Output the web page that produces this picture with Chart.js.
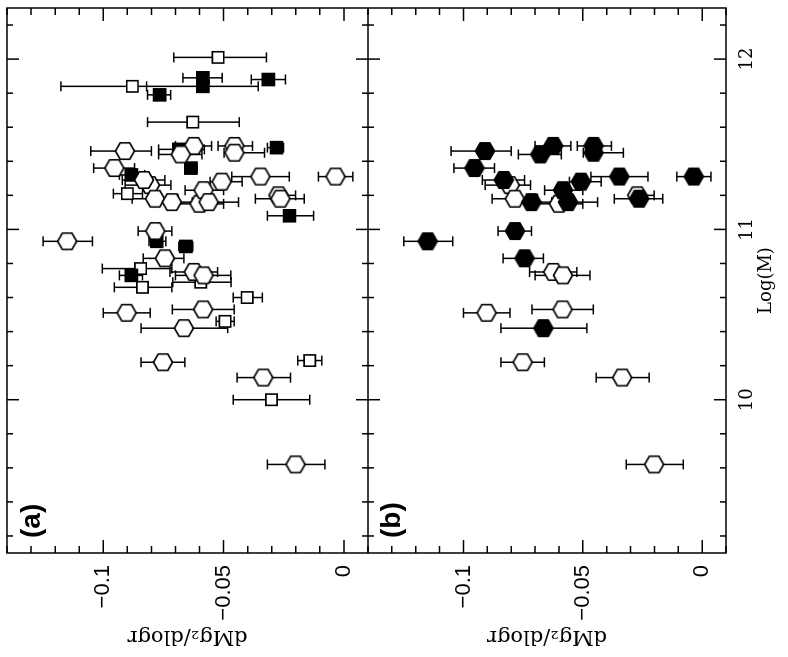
<!DOCTYPE html>
<html>
<head>
<meta charset="utf-8">
<script src="https://cdn.jsdelivr.net/npm/chart.js@4.4.0/dist/chart.umd.min.js"></script>
<style>
html,body{margin:0;padding:0;background:#fff;width:788px;height:657px;overflow:hidden;}
#rot{position:absolute;left:0;top:0;width:657px;height:788px;transform-origin:0 0;transform:translate(0,657px) rotate(-90deg);background:#fff;}
#ca{position:absolute;left:0;top:0;}
#cb{position:absolute;left:0;top:368px;}
</style>
</head>
<body>
<div id="rot">
  <canvas id="ca" width="657" height="368"></canvas>
  <canvas id="cb" width="657" height="420"></canvas>
</div>
<script>
// ---------------- data ----------------
const logMTickLabels = [10, 11, 12];
const dmgTickLabels = [-0.1, -0.05, 0];
const logMRange = [9.1, 12.3];
const dmgRange = [-0.14, 0.01];
const logMMinorStep = 0.2;
const dmgMinorStep = 0.01;

// hexagon sample (plotted in both panels); this group is filled in panel (b)
const hexFilledLogM = [11.31, 11.46, 11.36, 10.93, 10.99, 10.83, 10.42, 11.28, 11.31, 11.29, 11.16, 11.23, 11.16, 11.18, 11.49, 11.44, 11.49, 11.45];
const hexFilledVal  = [-0.0035, -0.091, -0.0954, -0.115, -0.0784, -0.0744, -0.0665, -0.0508, -0.0347, -0.0831, -0.0715, -0.0583, -0.0562, -0.0264, -0.0624, -0.0678, -0.0455, -0.0455];
const hexFilledLo   = [-0.0106, -0.1052, -0.104, -0.125, -0.0855, -0.0834, -0.0843, -0.0556, -0.0466, -0.0921, -0.079, -0.066, -0.069, -0.0368, -0.070, -0.077, -0.0523, -0.0498];
const hexFilledHi   = [0.0037, -0.080, -0.087, -0.1045, -0.0715, -0.0665, -0.0483, -0.0423, -0.0227, -0.0744, -0.063, -0.050, -0.0438, -0.0165, -0.055, -0.059, -0.038, -0.033];

// hexagon sample, open in both panels
const hexOpenLogM = [10.51, 10.53, 10.22, 10.13, 9.62, 10.75, 10.73, 11.26, 11.18, 11.15, 11.20];
const hexOpenVal  = [-0.0903, -0.0585, -0.0752, -0.0335, -0.0201, -0.0624, -0.0583, -0.0806, -0.0785, -0.060, -0.0272];
const hexOpenLo   = [-0.100, -0.0713, -0.0843, -0.0444, -0.0318, -0.0723, -0.070, -0.0909, -0.088, -0.070, -0.0297];
const hexOpenHi   = [-0.0805, -0.0456, -0.0661, -0.0222, -0.0079, -0.0525, -0.047, -0.0719, -0.069, -0.050, -0.0201];

// squares, panel (a) only
const sqFilledLogM = [11.88, 11.89, 11.84, 11.79, 11.47, 11.48, 11.32, 11.08, 10.93, 10.90, 10.73, 11.36];
const sqFilledVal  = [-0.0314, -0.0586, -0.0586, -0.0766, -0.0686, -0.028, -0.0883, -0.0226, -0.0778, -0.0657, -0.0883, -0.0636];
const sqFilledLo   = [-0.0385, -0.0669, -0.082, -0.0816, -0.077, -0.0318, -0.0933, -0.0318, -0.081, -0.0686, -0.0933, -0.066];
const sqFilledHi   = [-0.0243, -0.0506, -0.0356, -0.072, -0.058, -0.0251, -0.0828, -0.0126, -0.074, -0.0628, -0.0837, -0.061];

const sqOpenLogM = [12.01, 11.84, 11.63, 11.21, 10.77, 10.66, 10.69, 10.60, 10.46, 10.23, 10.00];
const sqOpenVal  = [-0.0523, -0.0879, -0.0628, -0.090, -0.0845, -0.0837, -0.0595, -0.0402, -0.0494, -0.0142, -0.0301];
const sqOpenLo   = [-0.0707, -0.1176, -0.0816, -0.0958, -0.1004, -0.0954, -0.0711, -0.046, -0.0531, -0.0192, -0.046];
const sqOpenHi   = [-0.0322, -0.0582, -0.0435, -0.0837, -0.0715, -0.0715, -0.0469, -0.0339, -0.0456, -0.0092, -0.0142];

// ---------------- helpers ----------------
function makeHex(filled) {
  const R = 9.5, lw = 1.6, s = Math.ceil(2 * R + lw + 3);
  const c = document.createElement('canvas');
  c.width = s; c.height = s;
  const g = c.getContext('2d');
  g.beginPath();
  for (let k = 0; k < 6; k++) {
    const a = Math.PI / 2 + k * Math.PI / 3;
    const px = s / 2 + R * Math.cos(a), py = s / 2 + R * Math.sin(a);
    if (k) g.lineTo(px, py); else g.moveTo(px, py);
  }
  g.closePath();
  g.fillStyle = filled ? '#000' : '#fff';
  g.fill();
  g.lineWidth = lw; g.strokeStyle = '#000'; g.lineJoin = 'round';
  g.stroke();
  return c;
}
const hexOpenImg = makeHex(false);
const hexFilledImg = makeHex(true);

function pts(logM, val) { return logM.map((m, i) => ({x: m, y: val[i]})); }
function errData(groups) {
  const d = [];
  groups.forEach(([logM, lo, hi]) => {
    logM.forEach((m, i) => { d.push({x: m, y: lo[i]}, {x: m, y: hi[i]}, {x: m, y: null}); });
  });
  return d;
}
function errSet(groups) {
  return {
    data: errData(groups), showLine: true, spanGaps: false,
    borderColor: '#000', borderWidth: 1.5, fill: false,
    pointStyle: 'line', pointRadius: 5, pointBorderColor: '#000', pointBorderWidth: 1.5,
    order: 5
  };
}
function symSet(data, style, bg, radius) {
  return {data, pointStyle: style, pointRadius: radius, backgroundColor: bg, pointBackgroundColor: bg,
    pointBorderColor: '#000', pointBorderWidth: 1.6, borderColor: '#000', order: 1};
}

const fmtDmg = v => v === 0 ? '0' : (v < 0 ? '\u2212' : '') + String(Math.abs(v));

const frameTicks = {
  id: 'frameTicks',
  afterDatasetsDraw(chart, args, opts) {
    const {ctx, chartArea: a, scales: {x, y}} = chart;
    ctx.save();
    ctx.strokeStyle = '#000';
    ctx.lineWidth = 1.5;
    ctx.beginPath();
    const i0 = Math.ceil(x.min / logMMinorStep - 1e-6), i1 = Math.floor(x.max / logMMinorStep + 1e-6);
    for (let i = i0; i <= i1; i++) {
      const v = i * logMMinorStep;
      const major = Math.abs(v - Math.round(v)) < 1e-6;
      const px = x.getPixelForValue(v), len = major ? 12 : 6;
      ctx.moveTo(px, a.top); ctx.lineTo(px, a.top + len);
      ctx.moveTo(px, a.bottom); ctx.lineTo(px, a.bottom - len);
    }
    const j0 = Math.ceil(y.min / dmgMinorStep - 1e-6), j1 = Math.floor(y.max / dmgMinorStep + 1e-6);
    for (let j = j0; j <= j1; j++) {
      const v = j * dmgMinorStep;
      const major = j % 5 === 0;
      const py = y.getPixelForValue(v), len = major ? 13 : 7;
      ctx.moveTo(a.left, py); ctx.lineTo(a.left + len, py);
      ctx.moveTo(a.right, py); ctx.lineTo(a.right - len, py);
    }
    ctx.stroke();
    ctx.strokeRect(a.left, a.top, a.right - a.left, a.bottom - a.top);
    ctx.fillStyle = '#000';
    ctx.font = 'bold 28px "Liberation Sans", Arial, sans-serif';
    ctx.textBaseline = 'top';
    ctx.textAlign = 'left';
    ctx.fillText(opts.label, a.left + 15, a.top + opts.labelDy);
    ctx.restore();
  }
};

function makeConfig(isB) {
  let datasets;
  if (!isB) {
    datasets = [
      symSet(pts(hexFilledLogM, hexFilledVal), hexOpenImg, '#fff', 9),
      symSet(pts(hexOpenLogM, hexOpenVal), hexOpenImg, '#fff', 9),
      symSet(pts(sqFilledLogM, sqFilledVal), 'rect', '#000', 8.5),
      symSet(pts(sqOpenLogM, sqOpenVal), 'rect', '#fff', 8),
      errSet([[hexFilledLogM, hexFilledLo, hexFilledHi], [hexOpenLogM, hexOpenLo, hexOpenHi],
              [sqFilledLogM, sqFilledLo, sqFilledHi], [sqOpenLogM, sqOpenLo, sqOpenHi]])
    ];
  } else {
    datasets = [
      symSet(pts(hexFilledLogM, hexFilledVal), hexFilledImg, '#000', 9),
      symSet(pts(hexOpenLogM, hexOpenVal), hexOpenImg, '#fff', 9),
      errSet([[hexFilledLogM, hexFilledLo, hexFilledHi], [hexOpenLogM, hexOpenLo, hexOpenHi]])
    ];
  }
  return {
    type: 'scatter',
    data: {datasets},
    options: {
      responsive: false,
      animation: false,
      events: [],
      layout: {autoPadding: false, padding: {top: isB ? 0 : 7, right: 8, bottom: 0, left: 0}},
      plugins: {legend: {display: false}, tooltip: {enabled: false},
        frameTicks: {label: isB ? '(b)' : '(a)', labelDy: isB ? 10 : 11}},
      scales: {
        x: {
          type: 'linear', min: logMRange[0], max: logMRange[1],
          display: isB,
          grid: {display: false, drawTicks: false}, border: {display: false},
          afterBuildTicks: s => { s.ticks = logMTickLabels.map(v => ({value: v})); },
          afterFit: s => {
            s.paddingLeft = 0; s.paddingRight = 0;
            s.height = isB ? 62 : 0;
          },
          ticks: {color: '#000', padding: 11, maxRotation: 0, autoSkip: false,
            font: {family: '"DejaVu Serif", serif', size: 18}, callback: v => String(v)},
          title: {display: true, text: 'Log(M)', color: '#000',
            font: {family: '"DejaVu Serif", serif', size: 18}, padding: {top: 0, bottom: 11}}
        },
        y: {
          type: 'linear', min: dmgRange[0], max: dmgRange[1], reverse: true,
          grid: {display: false, drawTicks: false}, border: {display: false},
          afterBuildTicks: s => { s.ticks = dmgTickLabels.map(v => ({value: v})); },
          afterFit: s => { s.width = 104; s.paddingTop = 0; s.paddingBottom = 0; },
          ticks: {color: '#000', padding: 12, autoSkip: false,
            font: {family: '"Liberation Sans", Arial, sans-serif', size: 22}, callback: fmtDmg},
          title: {display: true, text: 'dMg\u2082/dlogr', color: '#000',
            font: {family: '"DejaVu Serif", serif', size: 21}, padding: {top: 8, bottom: 0}}
        }
      }
    },
    plugins: [frameTicks]
  };
}

new Chart(document.getElementById('ca'), makeConfig(false));
new Chart(document.getElementById('cb'), makeConfig(true));
</script>
</body>
</html>
